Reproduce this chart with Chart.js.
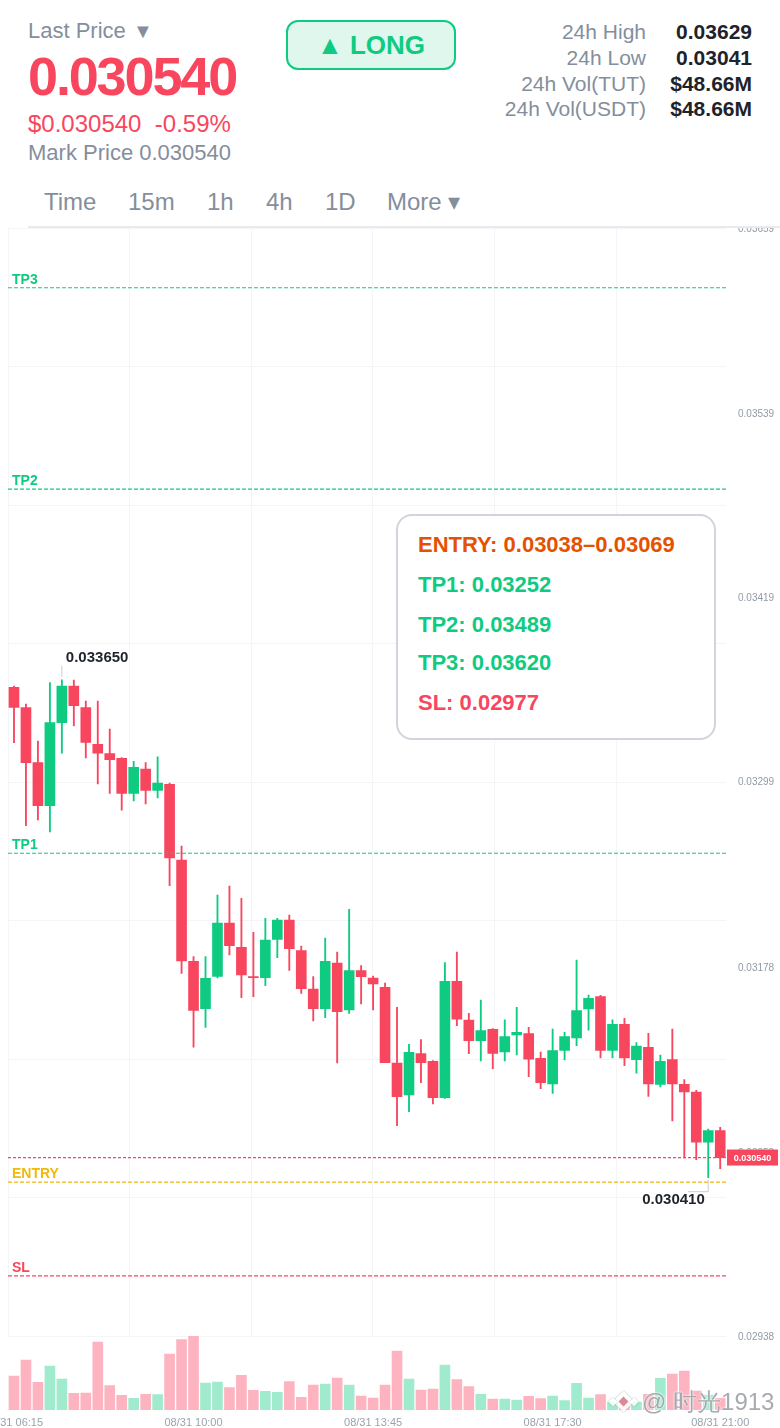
<!DOCTYPE html>
<html>
<head>
<meta charset="utf-8">
<script src="https://cdn.jsdelivr.net/npm/chart.js@4"></script>
<style>
    html, body { margin: 0; padding: 0; background: #fff; }
    body { width: 780px; height: 1428px; position: relative; overflow: hidden; font-family: "Liberation Sans", Arial, sans-serif; }
    .t { position: absolute; white-space: nowrap; line-height: 1; }
    .gray { color: #848e9c; }
    .red { color: #f9465f; }
    .tab { top: 190px; font-size: 24px; color: #848e9c; }
    .sl { right: 134px; font-size: 21px; color: #848e9c; }
    .sv { right: 28px; font-size: 21px; color: #1e2329; font-weight: bold; }
    canvas { position: absolute; left: 0; }
    #tabLine { position: absolute; left: 28px; right: 0; top: 226px; height: 2px; background: #e8eaed; }
    #pill { position: absolute; left: 286px; top: 20px; width: 166px; height: 46px; border: 2px solid #0ecb81; border-radius: 12px; background: #e0f7ee; color: #0ecb81; font-weight: bold; font-size: 26px; line-height: 47px; text-align: center; }
    #box { position: absolute; left: 396px; top: 514px; width: 316px; height: 222px; border: 2px solid #d1d5db; border-radius: 16px; background: #fff; }
    #box div { position: absolute; left: 20px; font-size: 22px; font-weight: bold; line-height: 1; white-space: nowrap; }
    #wm { position: absolute; left: 642px; top: 1390px; font-size: 24px; line-height: 1; white-space: nowrap; color: rgba(120,124,135,.65); text-shadow: 0 0 2px #fff, 0 0 2px #fff; }
    .dia { position: absolute; transform: rotate(45deg); background: rgba(255,255,255,.85); box-shadow: 0 0 2px #aaa; }
</style>
</head>
<body>
<div class="t gray" style="left:28px;top:20px;font-size:22px">Last Price <span style="font-size:20px;margin-left:1px">▼</span></div>
<div class="t red" style="left:28px;top:49px;font-size:54px;font-weight:bold;letter-spacing:-2.15px">0.030540</div>
<div class="t red" style="left:28px;top:112px;font-size:24px;white-space:pre">$0.030540  -0.59%</div>
<div class="t gray" style="left:28px;top:142px;font-size:22px">Mark Price 0.030540</div>
<div id="pill">▲ LONG</div>

<div class="t sl" style="top:21px">24h High</div><div class="t sv" style="top:21px">0.03629</div>
<div class="t sl" style="top:47px">24h Low</div><div class="t sv" style="top:47px">0.03041</div>
<div class="t sl" style="top:73px">24h Vol(TUT)</div><div class="t sv" style="top:73px">$48.66M</div>
<div class="t sl" style="top:98px">24h Vol(USDT)</div><div class="t sv" style="top:98px">$48.66M</div>

<div class="t tab" style="left:44px">Time</div>
<div class="t tab" style="left:128px">15m</div>
<div class="t tab" style="left:207px">1h</div>
<div class="t tab" style="left:266px">4h</div>
<div class="t tab" style="left:325px">1D</div>
<div class="t tab" style="left:387px">More ▾</div>
<div id="tabLine"></div>

<canvas id="priceChart" width="780" height="1118" style="top:228px"></canvas>
<canvas id="volumeChart" width="780" height="92" style="top:1336px"></canvas>

<div id="box">
    <div style="top:18px;color:#e65100">ENTRY: 0.03038–0.03069</div>
    <div style="top:58px;color:#0ecb81">TP1: 0.03252</div>
    <div style="top:98px;color:#0ecb81">TP2: 0.03489</div>
    <div style="top:136px;color:#0ecb81">TP3: 0.03620</div>
    <div style="top:176px;color:#f9465f">SL: 0.02977</div>
</div>

<!-- watermark -->
<div class="dia" style="left:616px;top:1394px;width:15px;height:15px"></div>
<div class="dia" style="left:610px;top:1399px;width:6px;height:6px"></div>
<div class="dia" style="left:631px;top:1399px;width:6px;height:6px"></div>
<div class="dia" style="left:620px;top:1398px;width:7px;height:7px;background:#d98a98;box-shadow:none"></div>
<div id="wm">@ 时光1913</div>

<script>
const categories = [
    '08/31 06:15','08/31 06:30','08/31 06:45','08/31 07:00','08/31 07:15','08/31 07:30','08/31 07:45','08/31 08:00','08/31 08:15','08/31 08:30',
    '08/31 08:45','08/31 09:00','08/31 09:15','08/31 09:30','08/31 09:45','08/31 10:00','08/31 10:15','08/31 10:30','08/31 10:45','08/31 11:00',
    '08/31 11:15','08/31 11:30','08/31 11:45','08/31 12:00','08/31 12:15','08/31 12:30','08/31 12:45','08/31 13:00','08/31 13:15','08/31 13:30',
    '08/31 13:45','08/31 14:00','08/31 14:15','08/31 14:30','08/31 14:45','08/31 15:00','08/31 15:15','08/31 15:30','08/31 15:45','08/31 16:00',
    '08/31 16:15','08/31 16:30','08/31 16:45','08/31 17:00','08/31 17:15','08/31 17:30','08/31 17:45','08/31 18:00','08/31 18:15','08/31 18:30',
    '08/31 18:45','08/31 19:00','08/31 19:15','08/31 19:30','08/31 19:45','08/31 20:00','08/31 20:15','08/31 20:30','08/31 20:45','08/31 21:00'
];
const opens = [
    .0336012,.0334685,.0331106,.0328308,.0333709,.0336097,.0334685,.0332303,.0331692,.0331392,
    .0329115,.0330696,.0329310,.0329700,.0324774,.0318183,.0315098,.0317206,.0320675,.0319094,
    .0317181,.0317116,.0319614,.0320870,.0318872,.0316380,.0315098,.0318072,.0315014,.0317571,
    .0317096,.0316491,.0311565,.0309483,.0312170,.0311676,.0309307,.0316881,.0314363,.0313016,
    .0313758,.0312281,.0313387,.0313472,.0311871,.0310198,.0312391,.0313192,.0315079,.0315879,
    .0312391,.0314083,.0311780,.0312587,.0310179,.0311780,.0310179,.0309678,.0306405,.0307160
];
const closes = [
    .0334711,.0331106,.0328308,.0333709,.0336097,.0334815,.0332433,.0331718,.0331301,.0329115,
    .0330807,.0329310,.0329785,.0324905,.0318202,.0314994,.0317076,.0320675,.0319198,.0317291,
    .0317116,.0319569,.0320870,.0319003,.0316400,.0315098,.0318183,.0314903,.0317571,.0317181,
    .0316706,.0311584,.0309372,.0312261,.0311584,.0309307,.0316881,.0314409,.0313016,.0313667,
    .0312196,.0313276,.0313563,.0311806,.0310283,.0312365,.0313276,.0314968,.0315775,.0312391,
    .0314083,.0311890,.0312671,.0310198,.0311676,.0310198,.0309678,.0306405,.0307160,.0305400
];
const highs = [
    .0336097,.0334926,.0332518,.0336312,.0336500,.0336490,.0335121,.0335121,.0333299,.0331444,
    .0331197,.0331106,.0331496,.0329785,.0325686,.0318482,.0318482,.0322497,.0323083,.0322282,
    .0320070,.0320981,.0320981,.0321196,.0319178,.0317181,.0319699,.0318788,.0321566,.0317896,
    .0317226,.0316771,.0315189,.0312782,.0313081,.0311728,.0318092,.0318788,.0314799,.0315664,
    .0313810,.0314382,.0315189,.0313888,.0312281,.0313777,.0313563,.0318267,.0315990,.0315970,
    .0314382,.0314474,.0312886,.0313498,.0312086,.0313777,.0310478,.0309788,.0307270,.0307381
];
const lows = [
    .0332407,.0327006,.0327377,.0326596,.0331718,.0333494,.0331412,.0329720,.0329115,.0328009,
    .0328614,.0328419,.0328809,.0323102,.0317402,.0312587,.0313888,.0317096,.0318593,.0315814,
    .0315879,.0316595,.0318417,.0317597,.0316100,.0314298,.0314514,.0311565,.0314799,.0315404,
    .0315014,.0311584,.0307485,.0308396,.0310283,.0308897,.0309255,.0313992,.0312170,.0311695,
    .0311194,.0311695,.0312086,.0310673,.0309892,.0309593,.0311760,.0312691,.0313693,.0311890,
    .0311890,.0311389,.0310895,.0309398,.0310003,.0307791,.0305383,.0305272,.0304100,.0304687
];
const volumes = [
    34,50,27.7,44,31,16.7,17,68,24.3,14.7,
    11.7,15.7,15.3,56,70.3,74,27,28,22.3,34.7,
    19.7,18.7,17.7,28.3,12.7,25,26,32,25,14,
    12,25,59,31,20,21,45,30.3,23.3,15.7,
    11,11,10,13.7,11.3,14,9.3,26.7,12,15.3,
    8,8,8,15.7,31.7,36,39,19,15,11.7
];
const priceTicks = [0.02938, 0.03058, 0.03178, 0.03299, 0.03419, 0.03539, 0.03659];
const timeTicks = ['08/31 06:15', '08/31 10:00', '08/31 13:45', '08/31 17:30', '08/31 21:00'];
// where the vertical grid lines fall, in candle numbers
const gridStops = [-0.5, 9.64, 19.82, 29.99, 40.16, 50.35];
const levelNames = ['TP3', 'TP2', 'TP1', 'ENTRY', 'SL'];
const levelPrices = [0.03620, 0.03489, 0.03252, 0.03038, 0.02977];
const levelColors = ['#0ecb81', '#0ecb81', '#0ecb81', '#f0b90b', '#f9465f'];
const lastPrice = 0.03054;

const RED = '#f9465f';
const GREEN = '#0ecb81';
const GRID = '#f4f5f6';

const isUp = (i) => closes[i] >= opens[i];

// Dashed levels, last price tag and the high / low markers
const overlayPlugin = {
    id: 'overlay',
    afterDatasetsDraw(chart) {
        const ctx = chart.ctx;
        const x = chart.scales.x;
        const y = chart.scales.y;
        const left = chart.chartArea.left;
        const right = chart.chartArea.right + 1;
        ctx.save();

        levelPrices.forEach((price, i) => {
            const py = y.getPixelForValue(price) - 0.2;
            ctx.strokeStyle = levelColors[i];
            ctx.lineWidth = 1.2;
            ctx.setLineDash([4, 2]);
            ctx.beginPath();
            ctx.moveTo(left, py);
            ctx.lineTo(right, py);
            ctx.stroke();
            ctx.setLineDash([]);
            ctx.fillStyle = levelColors[i];
            ctx.font = 'bold 14px "Liberation Sans"';
            ctx.textAlign = 'left';
            ctx.textBaseline = 'middle';
            ctx.fillText(levelNames[i], 12, py - 8);
        });

        // last price
        const ly = y.getPixelForValue(lastPrice) - 0.2;
        ctx.strokeStyle = RED;
        ctx.lineWidth = 1.2;
        ctx.setLineDash([3, 2]);
        ctx.beginPath();
        ctx.moveTo(left, ly);
        ctx.lineTo(right, ly);
        ctx.stroke();
        ctx.setLineDash([]);
        ctx.fillStyle = RED;
        ctx.fillRect(727, ly - 8, 51, 16);
        ctx.fillStyle = '#fff';
        ctx.font = 'bold 9px "Liberation Sans"';
        ctx.textAlign = 'center';
        ctx.fillText(lastPrice.toFixed(6), 752.5, ly + 0.5);

        // highest high and lowest low
        const hi = highs.indexOf(Math.max(...highs));
        const lo = lows.indexOf(Math.min(...lows));
        const hx = x.getPixelForValue(hi);
        const hy = y.getPixelForValue(highs[hi]);
        const lx = x.getPixelForValue(lo);
        const lyy = y.getPixelForValue(lows[lo]);
        ctx.strokeStyle = '#c9ccd1';
        ctx.lineWidth = 1;
        ctx.beginPath();
        ctx.moveTo(hx, hy - 3);
        ctx.lineTo(hx, hy - 14);
        ctx.moveTo(lx, lyy + 2);
        ctx.lineTo(lx, lyy + 14);
        ctx.lineTo(lx - 20, lyy + 14);
        ctx.stroke();
        ctx.fillStyle = '#1e2329';
        ctx.font = 'bold 15px "Liberation Sans"';
        ctx.textAlign = 'left';
        ctx.fillText(highs[hi].toFixed(6), hx + 4, hy - 22);
        ctx.fillText(lows[lo].toFixed(6), lx - 66, lyy + 22);
        ctx.restore();
    }
};

// Candles: wick bars behind, body bars on top
const priceChart = new Chart(document.getElementById('priceChart'), {
    type: 'bar',
    data: {
        labels: categories,
        datasets: [
            {
                data: categories.map((c, i) => [opens[i], closes[i]]),
                backgroundColor: categories.map((c, i) => isUp(i) ? GREEN : RED),
                barThickness: 10,
                order: 1
            },
            {
                data: categories.map((c, i) => [lows[i], highs[i]]),
                backgroundColor: categories.map((c, i) => isUp(i) ? GREEN : RED),
                barThickness: 1.2,
                order: 2
            }
        ]
    },
    options: {
        responsive: false,
        animation: false,
        devicePixelRatio: 1,
        layout: { padding: { left: 8, top: 0, bottom: 10, right: 0 } },
        plugins: { legend: { display: false }, tooltip: { enabled: false } },
        datasets: { bar: { grouped: false, borderSkipped: false } },
        scales: {
            x: { display: false },
            y: {
                position: 'right',
                min: 0.02938,
                max: 0.03659,
                grid: { display: false },
                border: { display: false },
                afterBuildTicks(scale) { scale.ticks = priceTicks.map(v => ({ value: v })); },
                afterFit(scale) { scale.width = 53.8; scale.paddingTop = 0; scale.paddingBottom = 0; },
                ticks: {
                    autoSkip: false,
                    padding: 3.8,
                    labelOffset: 1.5,
                    color: '#929aa5',
                    font: { size: 10, family: 'Liberation Sans' },
                    callback: v => v.toFixed(5)
                }
            },
            // grid lines only, they do not follow the price labels
            xGrid: {
                type: 'linear',
                axis: 'x',
                position: 'bottom',
                offset: false,
                min: -0.5,
                max: 59.5,
                border: { display: false },
                grid: { color: GRID, drawTicks: false, offset: false },
                ticks: { display: false, autoSkip: false },
                afterBuildTicks(scale) { scale.ticks = gridStops.map(v => ({ value: v })); },
                afterFit(scale) { scale.height = 0; }
            },
            yGrid: {
                type: 'linear',
                axis: 'y',
                position: 'left',
                min: 0,
                max: 8,
                border: { display: false },
                grid: { color: GRID, drawTicks: false },
                ticks: { display: false, stepSize: 1 },
                afterFit(scale) { scale.width = 0; }
            }
        }
    },
    plugins: [overlayPlugin]
});

// Volume strip under the candles
const volumeChart = new Chart(document.getElementById('volumeChart'), {
    type: 'bar',
    data: {
        labels: categories,
        datasets: [{
            data: volumes,
            backgroundColor: categories.map((c, i) => isUp(i) ? '#a0ebcd' : '#fdb4c0'),
            barThickness: 10
        }]
    },
    options: {
        responsive: false,
        animation: false,
        devicePixelRatio: 1,
        layout: { padding: { left: 8, right: 53.8, top: 0, bottom: 0 } },
        plugins: { legend: { display: false }, tooltip: { enabled: false } },
        scales: {
            x: {
                grid: { display: false, drawTicks: false },
                border: { display: false },
                afterFit(scale) { scale.height = 18; scale.paddingLeft = 0; scale.paddingRight = 0; },
                ticks: {
                    autoSkip: false,
                    maxRotation: 0,
                    padding: 6,
                    color: '#9aa3ae',
                    font: { size: 11, family: 'Liberation Sans' },
                    callback(v) {
                        const label = this.getLabelForValue(v);
                        return timeTicks.includes(label) ? label : '';
                    }
                }
            },
            y: { display: false, min: 0, max: 74 }
        }
    }
});
</script>
</body>
</html>
